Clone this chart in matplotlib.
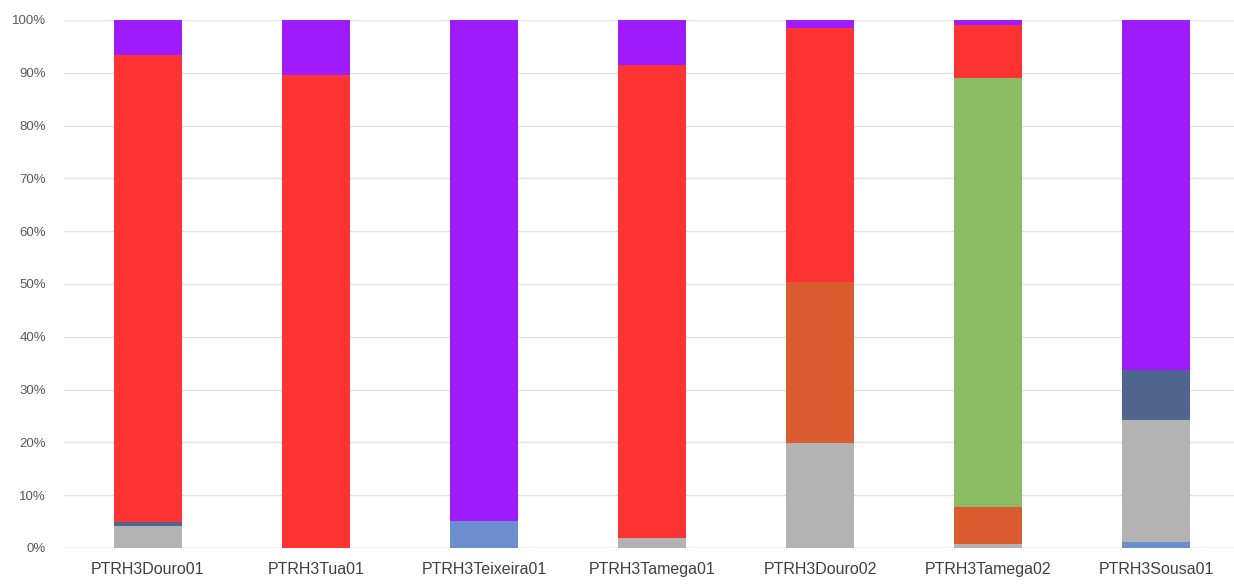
import matplotlib.pyplot as plt
import numpy as np

plt.rcParams['font.family'] = ['Liberation Sans', 'DejaVu Sans']

stations = ['PTRH3Douro01', 'PTRH3Tua01', 'PTRH3Teixeira01', 'PTRH3Tamega01',
            'PTRH3Douro02', 'PTRH3Tamega02', 'PTRH3Sousa01']

# percentage of each class per station, stacked bottom to top
light_blue = [0.0, 0.0, 5.2, 0.0, 0.0, 0.0, 1.1]
grey       = [4.1, 0.0, 0.0, 1.8, 19.9, 0.7, 23.1]
slate      = [0.9, 0.0, 0.0, 0.0, 0.0, 0.0, 9.5]
orange     = [0.0, 0.0, 0.0, 0.0, 30.5, 7.1, 0.0]
green      = [0.0, 0.0, 0.0, 0.0, 0.0, 81.2, 0.0]
red        = [88.4, 89.5, 0.0, 89.7, 48.0, 10.1, 0.0]
purple     = [6.6, 10.5, 94.8, 8.5, 1.6, 0.9, 66.3]

series = [light_blue, grey, slate, orange, green, red, purple]
colors = ['#6a8fcc', '#b3b3b3', '#4f6590', '#d95b2e', '#8bbb65', '#ff3333', '#9e1cff']

fig = plt.figure(figsize=(12.34, 5.85), dpi=100)
ax = fig.add_axes([64 / 1234, 37 / 585, 1 - 64 / 1234, 528 / 585])

x = np.arange(len(stations))
bottom = np.zeros(len(stations))
for vals, c in zip(series, colors):
    vals = np.array(vals)
    ax.bar(x, vals, 0.4, bottom=bottom, color=c, zorder=2)
    bottom += vals

ax.set_ylim(0, 100)
ax.set_xlim(-0.5, (1234 - 148) / 168)
ax.set_yticks(np.arange(0, 101, 10))
ax.set_yticklabels(['%d%%' % v for v in range(0, 101, 10)])
ax.set_xticks(x)
ax.set_xticklabels(stations)
ax.yaxis.grid(True, color='#e4e4e4', linewidth=1, zorder=0)
ax.axhline(0, color='#d4d4d4', linewidth=1, zorder=1)
for s in ax.spines.values():
    s.set_visible(False)
ax.tick_params(axis='y', length=0, pad=13, labelsize=9.5, labelcolor='#595959')
ax.tick_params(axis='x', length=0, pad=10, labelsize=11.5, labelcolor='#404040')

fig.savefig('out.png', dpi=100)
